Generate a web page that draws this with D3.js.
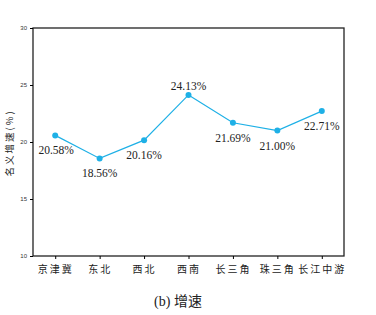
<!DOCTYPE html>
<html>
<head>
<meta charset="utf-8">
<script src="https://cdn.jsdelivr.net/npm/d3@7"></script>
<style>
  body { margin: 0; background: #fff; }
</style>
</head>
<body>
<div class="chart"></div>
<script>
const regions = ["京津冀", "东北", "西北", "西南", "长三角", "珠三角", "长江中游"];
const growth = [20.58, 18.56, 20.16, 24.13, 21.69, 21.00, 22.71];
const yTicks = [10, 15, 20, 25, 30];

const margin = { top: 28, left: 33, bottom: 59, right: 32 };
const width = 376 - margin.left - margin.right,
  height = 315 - margin.top - margin.bottom;

const svg = d3
  .select(".chart")
  .append("svg")
  .attr("width", 376)
  .attr("height", 315);

const g = svg
  .append("g")
  .attr("transform", `translate(${margin.left},${margin.top})`);

const xScale = d3.scalePoint().domain(regions).range([0, width]).padding(0.5);
const yScale = d3.scaleLinear().domain([10, 30]).range([height, 0]);

// frame
g.append("rect")
  .attr("width", width)
  .attr("height", height)
  .attr("fill", "none")
  .attr("stroke", "#222")
  .attr("stroke-width", 1.3);

const xAxis = g
  .append("g")
  .attr("transform", `translate(0,${height})`)
  .call(d3.axisBottom(xScale).tickSize(3).tickSizeOuter(0));
xAxis.select(".domain").remove();
xAxis
  .selectAll("text")
  .attr("dy", "1.1em")
  .style("font-family", "'Noto Sans CJK SC'")
  .style("font-size", "10px")
  .style("letter-spacing", "2px")
  .attr("fill", "#222");

const yAxis = g
  .append("g")
  .call(d3.axisLeft(yScale).tickValues(yTicks).tickSize(3).tickSizeOuter(0));
yAxis.select(".domain").remove();
yAxis
  .selectAll("text")
  .style("font-family", "'Liberation Sans'")
  .style("font-size", "6px")
  .attr("fill", "#333");

const line = d3
  .line()
  .x((d, i) => xScale(regions[i]))
  .y((d) => yScale(d));

g.append("path")
  .datum(growth)
  .attr("d", line)
  .attr("fill", "none")
  .attr("stroke", "#1eb0e6")
  .attr("stroke-width", 1.2);

g.selectAll("circles")
  .data(growth)
  .enter()
  .append("circle")
  .attr("cx", (d, i) => xScale(regions[i]))
  .attr("cy", (d) => yScale(d))
  .attr("r", 3)
  .attr("fill", "#1eb0e6");

g.selectAll("labels")
  .data(growth)
  .enter()
  .append("text")
  .attr("x", (d, i) => xScale(regions[i]) + (i === 0 ? 1 : 0))
  .attr("y", (d, i) => yScale(d) + (i === 3 ? -5 : 19))
  .attr("text-anchor", "middle")
  .style("font-family", "'Liberation Serif'")
  .style("font-size", "11.5px")
  .attr("fill", "#222")
  .text((d) => d.toFixed(2) + "%");

svg
  .append("text")
  .attr("transform", `translate(13,143) rotate(-90)`)
  .attr("text-anchor", "middle")
  .style("font-family", "'Noto Sans CJK SC'")
  .style("font-size", "9.5px")
  .style("letter-spacing", "2px")
  .attr("fill", "#222")
  .text("名义增速(%)");

svg
  .append("text")
  .attr("x", 178)
  .attr("y", 306)
  .attr("text-anchor", "middle")
  .style("font-family", "'Liberation Serif', 'Noto Sans CJK SC'")
  .style("font-size", "14px")
  .attr("fill", "#222")
  .text("(b) 增速");
</script>
</body>
</html>
